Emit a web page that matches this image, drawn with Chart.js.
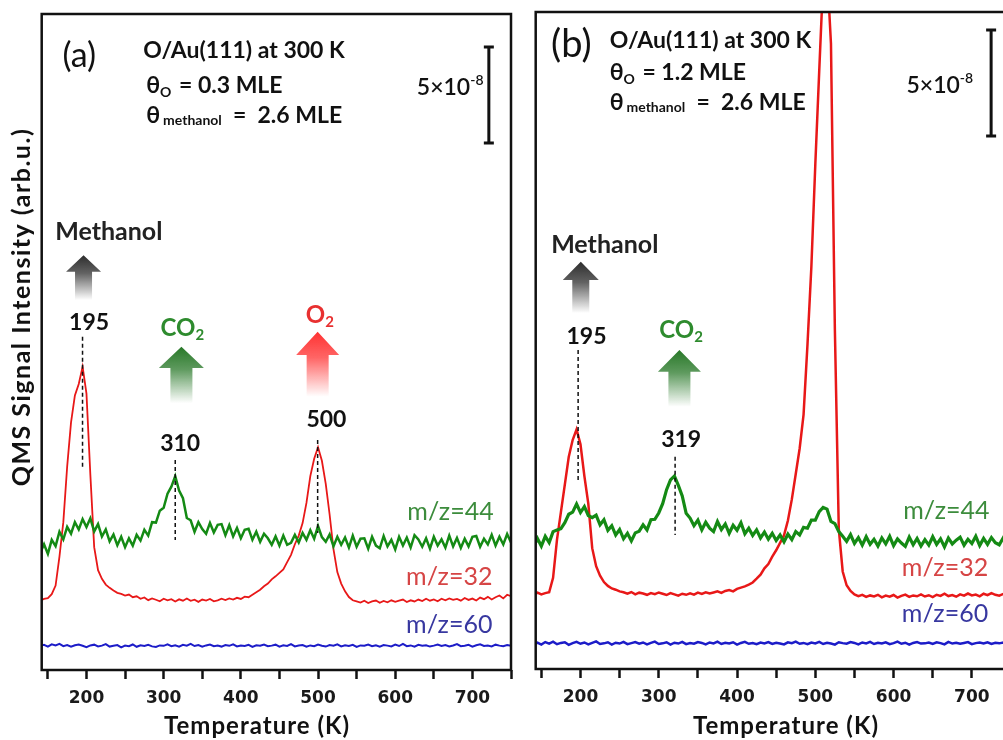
<!DOCTYPE html>
<html>
<head>
<meta charset="utf-8">
<script src="https://cdn.jsdelivr.net/npm/chart.js@4.4.0/dist/chart.umd.min.js"></script>
<style>
  html, body { margin: 0; padding: 0; background: #fff; overflow: hidden; width: 1003px; height: 740px; }
  #ca { position: absolute; left: 0; top: 0; }
  #cb { position: absolute; left: 520px; top: 0; }
</style>
</head>
<body>
<canvas id="ca" width="520" height="740"></canvas>
<canvas id="cb" width="500" height="740"></canvas>
<script>
// temperature grid (K) shared by all traces
const temps = [
  140,145,150,155,160,165,170,175,180,185,
  190,195,200,205,210,215,220,225,230,235,
  240,245,250,255,260,265,270,275,280,285,
  290,295,300,305,310,315,320,325,330,335,
  340,345,350,355,360,365,370,375,380,385,
  390,395,400,405,410,415,420,425,430,435,
  440,445,450,455,460,465,470,475,480,485,
  490,495,500,505,510,515,520,525,530,535,
  540,545,550,555,560,565,570,575,580,585,
  590,595,600,605,610,615,620,625,630,635,
  640,645,650,655,660,665,670,675,680,685,
  690,695,700,705,710,715,720,725,730,735,
  740,745,750
];

// panel (a): theta_O = 0.3 MLE, signal in units of 1e-8
const aMz32 = [
  3.62,3.70,3.74,3.95,4.40,5.90,7.70,10.6,12.9,14.3,
  14.9,15.8,14.4,10.2,6.40,5.20,4.75,4.45,4.28,4.14,
  4.02,3.96,3.88,3.93,3.79,3.84,3.71,3.78,3.64,3.73,
  3.66,3.58,3.71,3.63,3.69,3.57,3.68,3.61,3.72,3.60,
  3.66,3.55,3.67,3.62,3.70,3.58,3.63,3.71,3.64,3.73,
  3.67,3.76,3.70,3.82,3.79,3.92,4.05,4.18,4.36,4.50,
  4.72,4.88,5.06,5.24,5.62,6.00,6.55,7.00,7.65,8.70,
  10.1,11.0,11.6,10.9,9.70,8.10,6.30,5.10,4.50,4.10,
  3.80,3.63,3.57,3.51,3.61,3.49,3.57,3.62,3.50,3.60,
  3.53,3.63,3.55,3.61,3.67,3.54,3.63,3.57,3.67,3.59,
  3.71,3.61,3.68,3.58,3.71,3.63,3.73,3.65,3.70,3.61,
  3.75,3.65,3.72,3.62,3.77,3.69,3.81,3.67,3.79,3.88,
  3.73,3.92,3.84
];
const aMz44 = [
  6.10,6.55,6.05,6.78,6.45,7.20,6.80,7.45,7.10,7.70,
  7.32,7.86,7.45,7.90,7.22,7.60,6.95,7.32,6.70,7.06,
  6.50,6.94,6.40,6.86,6.48,7.04,6.74,7.30,7.00,7.70,
  7.68,8.30,8.45,9.18,9.55,10.1,9.35,8.95,7.92,7.80,
  7.20,7.70,7.34,7.10,7.66,7.16,7.56,7.60,7.02,7.54,
  6.96,7.40,6.86,7.30,7.36,6.78,7.20,6.68,7.10,6.86,
  6.52,6.96,6.48,7.00,6.52,6.62,7.04,6.64,7.14,6.78,
  7.28,6.84,7.50,6.92,6.68,7.06,6.44,6.94,6.52,6.90,
  6.38,7.00,6.42,6.84,6.86,6.32,6.94,6.48,6.34,6.98,
  6.44,6.78,6.28,6.94,6.48,6.90,6.38,7.02,6.80,6.42,
  6.86,6.32,6.94,6.48,6.80,6.38,7.00,6.44,6.88,6.36,
  6.84,6.44,6.94,6.98,6.42,6.84,6.54,7.04,6.48,6.94,
  6.54,7.08,6.64
];
const aMz60 = [
  1.25,1.31,1.22,1.34,1.28,1.36,1.24,1.30,1.21,1.29,
  1.33,1.26,1.19,1.28,1.32,1.23,1.27,1.35,1.22,1.26,
  1.30,1.18,1.27,1.24,1.33,1.21,1.29,1.25,1.31,1.23,
  1.20,1.28,1.26,1.34,1.24,1.29,1.22,1.31,1.27,1.36,
  1.25,1.30,1.21,1.28,1.33,1.24,1.27,1.22,1.30,1.26,
  1.34,1.23,1.28,1.25,1.31,1.20,1.29,1.26,1.33,1.24,
  1.27,1.32,1.22,1.29,1.25,1.35,1.23,1.28,1.30,1.21,
  1.28,1.24,1.33,1.26,1.22,1.30,1.27,1.34,1.23,1.29,
  1.25,1.31,1.20,1.28,1.26,1.33,1.24,1.29,1.22,1.30,
  1.27,1.23,1.32,1.25,1.36,1.24,1.28,1.21,1.31,1.26,
  1.29,1.22,1.27,1.33,1.25,1.30,1.23,1.28,1.35,1.24,
  1.26,1.31,1.22,1.29,1.34,1.25,1.28,1.23,1.32,1.27,
  1.24,1.30,1.26
];

// panel (b): theta_O = 1.2 MLE
const bMz32 = [
  3.55,3.60,3.52,3.58,3.62,4.30,6.10,7.40,8.70,10.0,
  10.8,11.3,10.6,9.10,7.80,5.70,4.85,4.40,4.10,3.92,
  3.80,3.74,3.66,3.62,3.55,3.63,3.52,3.60,3.56,3.50,
  3.58,3.53,3.61,3.55,3.49,3.58,3.52,3.46,3.55,3.50,
  3.57,3.51,3.60,3.54,3.62,3.56,3.61,3.66,3.59,3.68,
  3.72,3.66,3.78,3.84,3.90,3.98,4.08,4.26,4.45,4.75,
  4.95,5.30,5.60,5.95,6.30,7.00,8.00,9.20,10.4,12.0,
  15.3,19.0,23.8,28.2,32.5,33.0,29.5,16.0,6.60,4.60,
  3.95,3.68,3.52,3.44,3.50,3.40,3.47,3.42,3.50,3.38,
  3.46,3.41,3.49,3.37,3.45,3.51,3.40,3.47,3.43,3.52,
  3.42,3.48,3.39,3.50,3.45,3.55,3.44,3.49,3.41,3.52,
  3.46,3.56,3.47,3.51,3.43,3.55,3.48,3.58,3.50,3.46,
  3.54,3.49,3.57
];
const bMz44 = [
  5.74,6.16,5.80,6.26,5.96,6.48,6.56,6.62,6.90,7.30,
  7.40,7.78,7.38,7.66,7.24,7.14,7.26,6.80,7.04,6.54,
  6.76,6.32,6.58,6.14,6.40,6.04,6.42,6.50,6.80,6.56,
  7.04,7.06,7.36,7.80,8.46,8.92,9.10,8.66,8.16,7.34,
  7.12,6.76,7.02,6.56,6.92,6.64,6.48,6.96,6.58,6.84,
  6.40,6.78,6.54,6.90,6.38,6.64,6.30,6.56,6.18,6.46,
  6.12,6.40,6.06,6.32,6.00,6.36,6.10,6.48,6.32,6.68,
  6.64,7.02,7.02,7.42,7.62,7.54,6.96,6.86,6.48,6.26,
  6.02,6.34,5.92,6.20,5.84,6.24,5.88,6.12,5.80,6.18,
  5.90,6.26,5.82,6.14,5.94,5.78,6.22,5.86,6.16,5.80,
  6.10,5.84,6.24,5.88,6.14,5.76,6.18,5.90,6.08,6.22,
  5.84,6.12,5.92,6.26,5.82,6.16,5.88,6.20,5.96,5.86,
  6.18,5.92,6.22
];
const bMz60 = [
  1.18,1.24,1.15,1.27,1.20,1.29,1.17,1.23,1.26,1.14,
  1.22,1.28,1.19,1.25,1.16,1.23,1.30,1.18,1.21,1.26,
  1.15,1.24,1.20,1.28,1.17,1.22,1.27,1.19,1.25,1.16,
  1.23,1.29,1.18,1.21,1.26,1.15,1.24,1.20,1.28,1.17,
  1.22,1.19,1.27,1.23,1.16,1.25,1.21,1.29,1.18,1.24,
  1.20,1.26,1.15,1.23,1.28,1.19,1.22,1.17,1.25,1.21,
  1.27,1.18,1.24,1.20,1.16,1.26,1.22,1.29,1.19,1.23,
  1.17,1.25,1.21,1.28,1.18,1.24,1.20,1.15,1.26,1.22,
  1.19,1.27,1.23,1.16,1.25,1.21,1.28,1.18,1.24,1.20,
  1.26,1.17,1.22,1.29,1.19,1.24,1.15,1.23,1.27,1.20,
  1.21,1.25,1.18,1.26,1.22,1.16,1.28,1.20,1.24,1.19,
  1.23,1.27,1.17,1.22,1.25,1.20,1.26,1.18,1.24,1.21,
  1.25,1.19,1.23
];

const GREEN = '#148a14', RED = '#e81818', BLUE = '#1c1cc8';
const LATO = "Lato, 'Open Sans', sans-serif";

// annotations, positioned in data units (K, 1e-8)
const notesA = {
  tag: { text: '(a)', t: 190.7, v: 32.0, size: 34 },
  info: { t1: 273.6, t2: 277.4, v: [31.9, 30.05, 28.49], theta: '0.3', s1: 23, s2: 23 },
  bar: { t: 721.3, v0: 27.45, v1: 32.45, lt: 628.0, lv: 29.95 },
  arrows: [
    { t: 196.2, top: 21.61, base: 20.74, bottom: 19.27, hw: 35, sw: 17, rgb: '45,45,45' },
    { t: 323.0, top: 16.84, base: 15.73, bottom: 13.9, hw: 45, sw: 22, rgb: '40,120,40' },
    { t: 499.5, top: 17.62, base: 16.41, bottom: 14.23, hw: 43, sw: 22, rgb: '255,50,50' }
  ],
  texts: [
    { s: 'Methanol', t: 228.9, v: 22.81, c: '#222', size: 25 },
    { s: '195', t: 203.4, v: 18.09, c: '#111' },
    { s: 'CO', sub: '2', t: 324.3, v: 17.81, c: '#2e8b2e' },
    { s: '310', t: 321.4, v: 11.82, c: '#111' },
    { s: 'O', sub: '2', t: 502.4, v: 18.49, c: '#e83030' },
    { s: '500', t: 510.9, v: 13.02, c: '#111' },
    { s: 'm/z=44', t: 671.6, v: 8.23, c: '#3c8c3c', light: true },
    { s: 'm/z=32', t: 670.0, v: 4.86, c: '#d64545', light: true },
    { s: 'm/z=60', t: 670.0, v: 2.34, c: '#3838a0', light: true }
  ],
  dashes: [
    { t: 194.9, v0: 17.36, v1: 10.59 },
    { t: 315.0, v0: 10.94, v1: 6.77 },
    { t: 499.5, v0: 11.98, v1: 7.14 }
  ],
  xTitleT: 421
};
const notesB = {
  tag: { text: '(b)', t: 188.3, v: 29.43, size: 38 },
  info: { t1: 237.3, t2: 237.3, v: [29.29, 27.78, 26.37], theta: '1.2', s1: 23, s2: 23 },
  bar: { t: 724.6, v0: 25.14, v1: 30.14, lt: 616.5, lv: 27.17 },
  arrows: [
    { t: 200.4, top: 19.21, base: 18.35, bottom: 16.79, hw: 36, sw: 17, rgb: '45,45,45' },
    { t: 326.4, top: 15.05, base: 14.02, bottom: 12.37, hw: 43, sw: 22, rgb: '40,120,40' }
  ],
  texts: [
    { s: 'Methanol', t: 231.0, v: 20.0, c: '#222', size: 25 },
    { s: '195', t: 207.7, v: 15.67, c: '#111' },
    { s: 'CO', sub: '2', t: 328.6, v: 15.99, c: '#2e8b2e' },
    { s: '319', t: 328.6, v: 10.8, c: '#111' },
    { s: 'm/z=44', t: 667.4, v: 7.47, c: '#3c8c3c', light: true },
    { s: 'm/z=32', t: 665.7, v: 4.76, c: '#d64545', light: true },
    { s: 'm/z=60', t: 665.7, v: 2.59, c: '#3838a0', light: true }
  ],
  dashes: [
    { t: 197.0, v0: 15.05, v1: 8.92 },
    { t: 320.9, v0: 10.01, v1: 6.32 }
  ],
  xTitleT: 462.5
};

function runs(ctx, x, y, parts) {
  parts.forEach(p => {
    ctx.font = p[1];
    ctx.fillText(p[0], x, y + (p[2] || 0));
    x += ctx.measureText(p[0]).width + (p[3] || 0);
  });
}

const notesPlugin = {
  id: 'notes',
  afterDraw(chart, args, opts) {
    const n = opts.spec;
    const ctx = chart.ctx;
    const px = v => chart.scales.x.getPixelForValue(v);
    const py = v => chart.scales.y.getPixelForValue(v);
    const a = chart.chartArea;
    ctx.save();

    // frame
    ctx.strokeStyle = '#111';
    ctx.lineWidth = 2.5;
    ctx.strokeRect(a.left, a.top, a.right - a.left, a.bottom - a.top);

    // panel tag
    ctx.fillStyle = '#111';
    ctx.textAlign = 'center';
    ctx.textBaseline = 'middle';
    ctx.font = n.tag.size + 'px ' + LATO;
    ctx.fillText(n.tag.text, px(n.tag.t), py(n.tag.v));

    // sample info block
    ctx.textAlign = 'left';
    ctx.textBaseline = 'alphabetic';
    const i = n.info;
    const big = 'bold ' + i.s2 + 'px ' + LATO;
    const small = 'bold ' + Math.round(i.s2 * 0.6) + 'px ' + LATO;
    ctx.font = 'bold ' + i.s1 + 'px ' + LATO;
    ctx.fillText('O/Au(111) at 300 K', px(i.t1), py(i.v[0]));
    runs(ctx, px(i.t2), py(i.v[1]), [['θ', big], ['O', small, 4, 2], [' = ' + i.theta + ' MLE', big]]);
    runs(ctx, px(i.t2), py(i.v[2]), [['θ', big, 0, 3], ['methanol', small, 2, 0], ['  =  2.6 MLE', big]]);

    // 5e-8 scale bar
    const b = n.bar;
    const bx = px(b.t);
    ctx.lineWidth = 3;
    ctx.beginPath();
    ctx.moveTo(bx, py(b.v0)); ctx.lineTo(bx, py(b.v1));
    ctx.moveTo(bx - 5, py(b.v0)); ctx.lineTo(bx + 5, py(b.v0));
    ctx.moveTo(bx - 5, py(b.v1)); ctx.lineTo(bx + 5, py(b.v1));
    ctx.stroke();
    runs(ctx, px(b.lt), py(b.lv), [['5×10', '600 23px ' + LATO], ['-8', '600 14px ' + LATO, -10]]);

    // gradient arrows
    n.arrows.forEach(r => {
      const x = px(r.t), yt = py(r.top), yb = py(r.base), ye = py(r.bottom);
      const g = ctx.createLinearGradient(0, yt, 0, ye);
      g.addColorStop(0, 'rgba(' + r.rgb + ',1)');
      g.addColorStop(0.4, 'rgba(' + r.rgb + ',0.75)');
      g.addColorStop(1, 'rgba(' + r.rgb + ',0)');
      ctx.fillStyle = g;
      ctx.beginPath();
      ctx.moveTo(x, yt);
      ctx.lineTo(x + r.hw / 2, yb);
      ctx.lineTo(x + r.sw / 2, yb);
      ctx.lineTo(x + r.sw / 2, ye);
      ctx.lineTo(x - r.sw / 2, ye);
      ctx.lineTo(x - r.sw / 2, yb);
      ctx.lineTo(x - r.hw / 2, yb);
      ctx.closePath();
      ctx.fill();
    });

    // dashed peak markers
    ctx.strokeStyle = '#111';
    ctx.lineWidth = 1.5;
    ctx.setLineDash([4, 3]);
    n.dashes.forEach(d => {
      ctx.beginPath();
      ctx.moveTo(px(d.t), py(d.v0));
      ctx.lineTo(px(d.t), py(d.v1));
      ctx.stroke();
    });
    ctx.setLineDash([]);

    // labels
    ctx.textBaseline = 'middle';
    n.texts.forEach(s => {
      ctx.fillStyle = s.c;
      if (s.sub) {
        const f1 = 'bold 24px ' + LATO, f2 = 'bold 15px ' + LATO;
        ctx.font = f1;
        const w1 = ctx.measureText(s.s).width;
        ctx.font = f2;
        const w2 = ctx.measureText(s.sub).width;
        ctx.textAlign = 'left';
        runs(ctx, px(s.t) - (w1 + w2) / 2, py(s.v), [[s.s, f1], [s.sub, f2, 7]]);
      } else {
        ctx.textAlign = 'center';
        ctx.font = (s.light ? '25px ' : 'bold ' + (s.size || 23) + 'px ') + LATO;
        ctx.fillText(s.s, px(s.t), py(s.v));
      }
    });

    // axis titles
    ctx.fillStyle = '#111';
    ctx.textAlign = 'center';
    ctx.font = 'bold 24px ' + LATO;
    ctx.letterSpacing = '1px';
    ctx.fillText('Temperature (K)', px(n.xTitleT), 726);
    if (opts.yTitle) {
      ctx.translate(22, 307);
      ctx.rotate(-Math.PI / 2);
      ctx.font = 'bold 25px ' + LATO;
      ctx.letterSpacing = '1.5px';
      ctx.fillText('QMS Signal Intensity (arb.u.)', 0, 0);
    }
    ctx.letterSpacing = '0px';
    ctx.restore();
  }
};

const pts = vals => temps.map((t, k) => ({ x: t, y: vals[k] }));

function makeChart(id, sets, xMin, yMax, pad, spec, yTitle, lw) {
  return new Chart(document.getElementById(id), {
    type: 'line',
    data: {
      datasets: [
        { label: 'm/z=44', data: pts(sets[0]), borderColor: GREEN, borderWidth: lw[0], order: 1 },
        { label: 'm/z=32', data: pts(sets[1]), borderColor: RED, borderWidth: lw[1], order: 2 },
        { label: 'm/z=60', data: pts(sets[2]), borderColor: BLUE, borderWidth: lw[2], order: 3 }
      ]
    },
    options: {
      responsive: false,
      animation: false,
      layout: { padding: pad },
      elements: { point: { radius: 0 }, line: { tension: 0 } },
      plugins: { legend: { display: false }, tooltip: { enabled: false }, notes: { spec, yTitle } },
      scales: {
        x: {
          type: 'linear', min: xMin, max: 750,
          afterFit: s => { s.height = 740 - 670; },
          border: { display: false },
          grid: { drawOnChartArea: false, drawTicks: true, tickLength: 9, tickWidth: 2.5, tickColor: '#111' },
          ticks: {
            stepSize: 50, includeBounds: false, autoSkip: false, maxRotation: 0, padding: 9,
            color: '#1a1a1a', font: { family: 'DejaVu Sans', weight: 'bold', size: 17 },
            callback: v => (v % 100 === 0 ? String(v) : '')
          }
        },
        y: { display: false, min: 0, max: yMax }
      }
    },
    plugins: [notesPlugin]
  });
}

makeChart('ca', [aMz44, aMz32, aMz60], 142, 34.17, { left: 41.7, top: 14, right: 2, bottom: 0 }, notesA, true, [2.5, 1.8, 2]);
makeChart('cb', [bMz44, bMz32, bMz60], 142.8, 30.99, { left: 15.7, top: 12, right: 7, bottom: 1 }, notesB, false, [3.2, 2.5, 2.5]);
</script>
</body>
</html>
